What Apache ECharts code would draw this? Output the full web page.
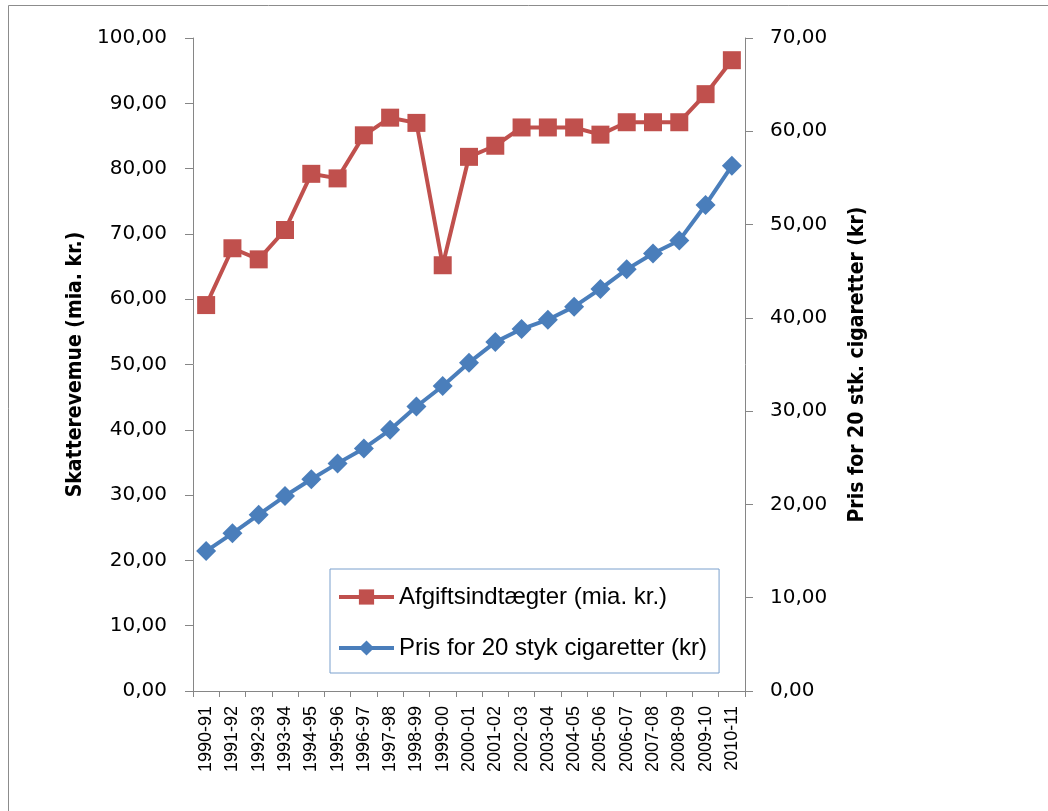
<!DOCTYPE html>
<html>
<head>
<meta charset="utf-8">
<script src="https://cdn.jsdelivr.net/npm/echarts@6/dist/echarts.min.js"></script>
<style>
  html, body { margin: 0; padding: 0; background: #ffffff; }
  #chart { width: 1048px; height: 811px; }
</style>
</head>
<body>
<div id="chart"></div>
<script>
// Fiscal years
const years = ['1990-91', '1991-92', '1992-93', '1993-94', '1994-95', '1995-96', '1996-97',
  '1997-98', '1998-99', '1999-00', '2000-01', '2001-02', '2002-03', '2003-04', '2004-05',
  '2005-06', '2006-07', '2007-08', '2008-09', '2009-10', '2010-11'];

// Tax revenue, billion kr. (left axis)
const afgiftsindtaegter = [59.1, 67.8, 66.1, 70.6, 79.2, 78.5, 85.1, 87.8, 87.0, 65.2, 81.8,
  83.5, 86.3, 86.3, 86.3, 85.2, 87.1, 87.1, 87.1, 91.4, 96.6];

// Price of 20 cigarettes, kr (right axis)
const prisCigaretter = [15.0, 16.9, 18.9, 20.9, 22.7, 24.4, 26.0, 28.0, 30.5, 32.7, 35.2,
  37.4, 38.8, 39.8, 41.2, 43.1, 45.2, 46.9, 48.3, 52.1, 56.3];

// Axis tick labels
const leftTickLabels = ['0,00', '10,00', '20,00', '30,00', '40,00', '50,00', '60,00', '70,00', '80,00', '90,00', '100,00'];
const rightTickLabels = ['0,00', '10,00', '20,00', '30,00', '40,00', '50,00', '60,00', '70,00'];

const seriesNames = ['Afgiftsindtægter (mia. kr.)', 'Pris for 20 styk cigaretter (kr)'];

const RED = '#C0504D';
const BLUE = '#4A7EBB';
const AXIS = '#868686';
const labelFont = "'DejaVu Sans', Verdana, sans-serif";
const textFont = "'Liberation Sans', Arial, sans-serif";
const titleFont = "'Liberation Sans Narrow', 'DejaVu Sans Condensed', 'Liberation Sans', sans-serif";

const chart = echarts.init(document.getElementById('chart'), null, { renderer: 'canvas' });

const valueAxisBase = {
  type: 'value',
  min: 0,
  interval: 10,
  nameLocation: 'middle',
  nameRotate: 90,
  splitLine: { show: false },
  axisLine: { show: true, lineStyle: { color: AXIS, width: 1 } },
  axisTick: { show: true, length: 8, lineStyle: { color: AXIS } },
  nameTextStyle: { fontFamily: titleFont, fontWeight: 'bold', fontSize: 21, color: '#000' }
};

chart.setOption({
  animation: false,
  backgroundColor: '#ffffff',
  graphic: [{
    type: 'rect',
    shape: { x: 8.5, y: 5.5, width: 1200, height: 1000 },
    style: { fill: 'none', stroke: '#8c8c8c', lineWidth: 1 },
    silent: true
  }],
  grid: { left: 193, right: 303, top: 38, bottom: 120, containLabel: false },
  legend: {
    orient: 'vertical',
    left: 330,
    top: 569,
    padding: [16, 12, 13, 7],
    itemGap: 27,
    itemWidth: 55,
    itemHeight: 19,
    backgroundColor: '#ffffff',
    borderColor: '#7BA0CD',
    borderWidth: 1,
    borderRadius: 0,
    data: seriesNames,
    lineStyle: { width: 4 },
    textStyle: { fontFamily: textFont, fontSize: 24, lineHeight: 24, color: '#000' }
  },
  xAxis: {
    type: 'category',
    data: years,
    boundaryGap: true,
    axisLine: { show: true, lineStyle: { color: AXIS, width: 1 } },
    axisTick: { show: true, alignWithLabel: false, length: 6, lineStyle: { color: AXIS } },
    axisLabel: {
      interval: 0,
      rotate: 90,
      margin: 15,
      fontFamily: textFont,
      fontSize: 18,
      color: '#000'
    }
  },
  yAxis: [
    Object.assign({}, valueAxisBase, {
      position: 'left',
      max: 100,
      name: 'Skatterevemue (mia. kr.)',
      nameGap: 106,
      axisLabel: {
        margin: 26,
        fontFamily: labelFont,
        fontSize: 20,
        color: '#000',
        formatter: v => leftTickLabels[Math.round(v / 10)]
      }
    }),
    Object.assign({}, valueAxisBase, {
      position: 'right',
      max: 70,
      name: 'Pris for 20 stk. cigaretter (kr)',
      nameGap: 102,
      axisLabel: {
        margin: 25,
        fontFamily: labelFont,
        fontSize: 20,
        color: '#000',
        formatter: v => rightTickLabels[Math.round(v / 10)]
      }
    })
  ],
  series: [
    {
      name: seriesNames[0],
      type: 'line',
      yAxisIndex: 0,
      data: afgiftsindtaegter,
      symbol: 'rect',
      symbolSize: 18,
      lineStyle: { color: RED, width: 4 },
      itemStyle: { color: RED },
      z: 3
    },
    {
      name: seriesNames[1],
      type: 'line',
      yAxisIndex: 1,
      data: prisCigaretter,
      symbol: 'diamond',
      symbolSize: 20,
      lineStyle: { color: BLUE, width: 4 },
      itemStyle: { color: BLUE },
      z: 2
    }
  ]
});
</script>
</body>
</html>
